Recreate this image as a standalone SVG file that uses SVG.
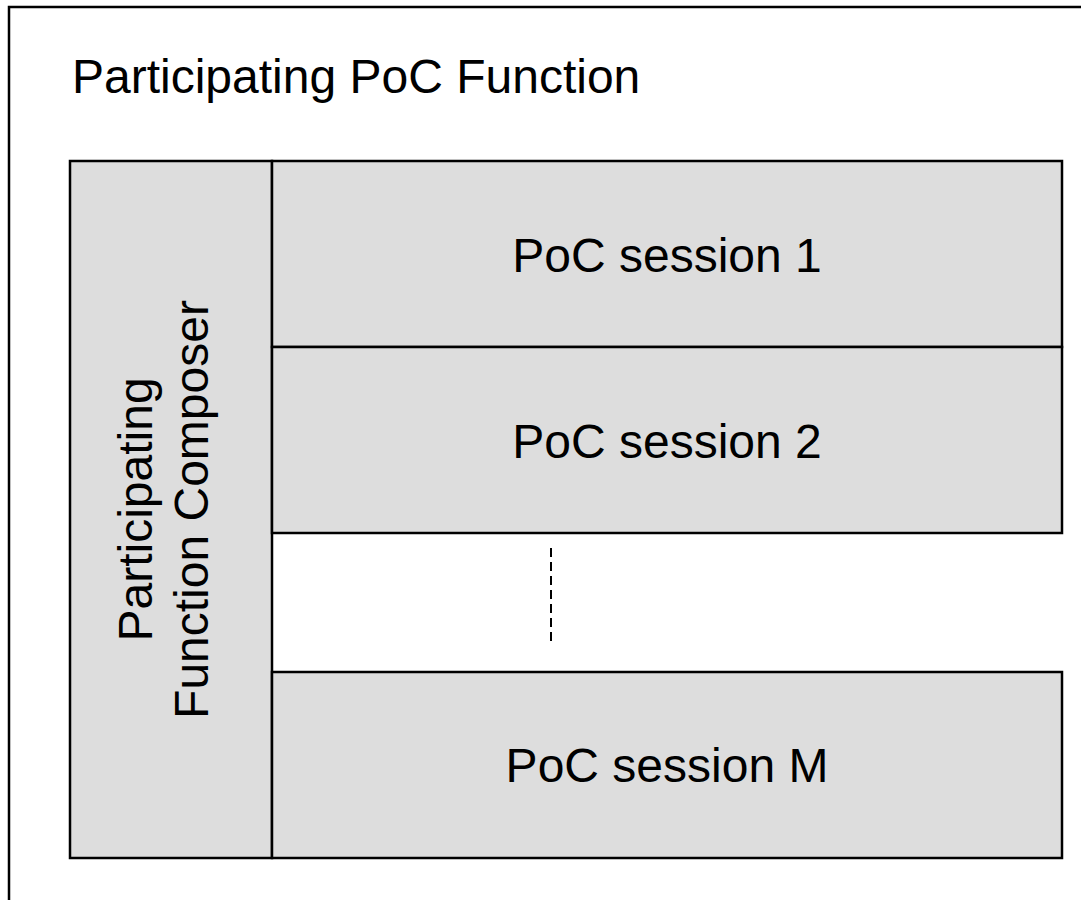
<svg xmlns="http://www.w3.org/2000/svg" width="1081" height="900" viewBox="0 0 1081 900">
<style>
.box{fill:#dddddd;stroke:#000;stroke-width:2.5}
.txt{font-family:"Liberation Sans",Arial,sans-serif;font-size:48px;fill:#000}
</style>
<rect x="0" y="0" width="1081" height="900" fill="#fff"/>
<g id="frame">
<rect x="9" y="7" width="1200" height="1000" fill="none" stroke="#000" stroke-width="2.5"/>
<text class="txt" x="72" y="93">Participating PoC Function</text>
</g>
<g id="composer">
<rect class="box" x="70" y="161" width="202" height="697"/>
<text class="txt" text-anchor="middle" transform="translate(152,509.5) rotate(-90)">Participating</text>
<text class="txt" text-anchor="middle" transform="translate(208,509.5) rotate(-90)">Function Composer</text>
</g>
<g id="session1">
<rect class="box" x="272" y="161" width="790" height="186"/>
<text class="txt" x="667" y="271.5" text-anchor="middle">PoC session 1</text>
</g>
<g id="session2">
<rect class="box" x="272" y="347" width="790" height="186"/>
<text class="txt" x="667" y="457.5" text-anchor="middle">PoC session 2</text>
</g>
<g id="sessionM">
<rect class="box" x="272" y="672" width="790" height="186"/>
<text class="txt" x="667" y="782" text-anchor="middle">PoC session M</text>
</g>
<g id="connectors">
<line x1="551" y1="548" x2="551" y2="642" stroke="#000" stroke-width="2" stroke-dasharray="9,5"/>
</g>
</svg>
